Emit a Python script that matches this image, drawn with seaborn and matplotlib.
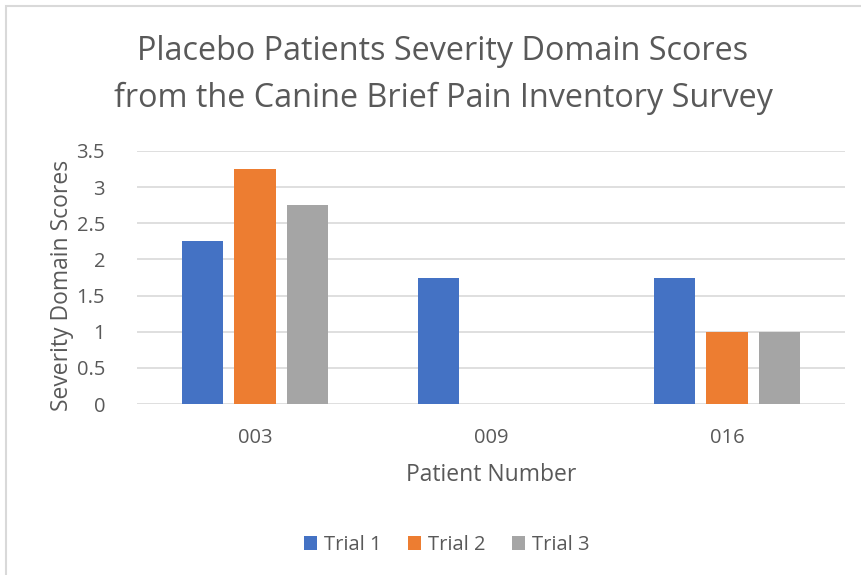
import matplotlib
matplotlib.use("Agg")
import matplotlib.pyplot as plt
import seaborn as sns
import pandas as pd
from matplotlib.patches import Rectangle

patients = ["003", "009", "016"]
trials = ["Trial 1", "Trial 2", "Trial 3"]
trial1 = [2.25, 1.75, 1.75]
trial2 = [3.25, 0.0, 1.0]
trial3 = [2.75, 0.0, 1.0]
yticks = [0, 0.5, 1, 1.5, 2, 2.5, 3, 3.5]
ytick_labels = ["0", "0.5", "1", "1.5", "2", "2.5", "3", "3.5"]
colors = ["#4472C4", "#ED7D31", "#A5A5A5"]

rows = []
for t, vals in zip(trials, [trial1, trial2, trial3]):
    for p, v in zip(patients, vals):
        rows.append({"Patient": p, "Trial": t, "Score": v})
df = pd.DataFrame(rows)

sns.set_theme(style="white")
plt.rcParams["font.family"] = ["Open Sans", "DejaVu Sans"]
txt = "#595959"
grid = "#D9D9D9"

W, H = 861, 575
fig = plt.figure(figsize=(W / 100, H / 100), dpi=100)
ax = fig.add_axes([137 / W, (H - 404) / H, (845 - 137) / W, (404 - 151) / H])

sns.barplot(data=df, x="Patient", y="Score", hue="Trial", order=patients,
            hue_order=trials, palette=colors, width=0.668, gap=0.21,
            saturation=1, linewidth=0, ax=ax, legend=True)

ax.set_ylim(0, 3.5)
ax.set_yticks(yticks)
ax.set_yticklabels(ytick_labels)
ax.set_xlim(-0.5, 2.5)
for y in yticks:
    ax.axhline(y, color=grid, lw=1.2, zorder=0)
for s in ax.spines.values():
    s.set_visible(False)
ax.tick_params(axis="both", length=0, colors=txt, labelsize=14.5)
ax.tick_params(axis="y", pad=23)
ax.tick_params(axis="x", pad=17)
ax.set_xlabel("Patient Number", color=txt, fontsize=16.5, labelpad=11)
ax.set_ylabel("Severity Domain Scores", color=txt, fontsize=16.5, va="center")
ax.yaxis.set_label_coords((62 - 137) / 708, (404 - 285) / 253)

leg = ax.legend(loc="center", bbox_to_anchor=(447 / W, 1 - 545 / H),
                bbox_transform=fig.transFigure, ncol=3, frameon=False,
                fontsize=14.5, handlelength=0.65, handleheight=0.65,
                handletextpad=0.35, columnspacing=1.3)
for t in leg.get_texts():
    t.set_color(txt)

fig.text(443 / W, 1 - 52 / H, "Placebo Patients Severity Domain Scores",
         ha="center", va="center", fontsize=23.3, color=txt)
fig.text(443 / W, 1 - 98 / H, "from the Canine Brief Pain Inventory Survey",
         ha="center", va="center", fontsize=23.3, color=txt)

fig.patches.append(Rectangle((6 / W, -0.1), 1.1, 1 - 6 / H + 0.1,
                             transform=fig.transFigure, fill=False,
                             edgecolor=grid, lw=1.5))

fig.savefig("out.png", dpi=100, facecolor="white")
